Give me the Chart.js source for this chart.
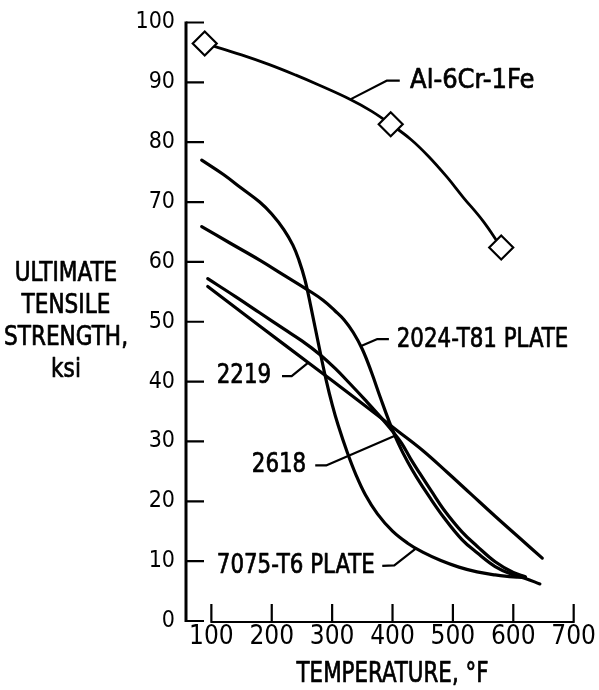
<!DOCTYPE html>
<html>
<head>
<meta charset="utf-8">
<title>Ultimate tensile strength vs temperature</title>
<script src="https://cdn.jsdelivr.net/npm/chart.js@4.4.1/dist/chart.umd.min.js"></script>
<style>
  html, body { margin: 0; padding: 0; background: #fff; }
  #wrap { width: 599px; height: 690px; }
</style>
</head>
<body>
<div id="wrap"><canvas id="chart"></canvas></div>
<script>
// ── Axis ticks ──────────────────────────────────────────────────────
const xTicks = [100, 200, 300, 400, 500, 600, 700];           // °F
const yTicks = [0, 10, 20, 30, 40, 50, 60, 70, 80, 90, 100];  // ksi

// ── Curves (temperature °F, strength ksi) ──────────────────────────
const alTemps    = [89, 150, 195, 240, 277, 331, 365, 397, 430, 459, 490, 517, 550, 580];
const alStrength = [96.5, 94.6, 93.0, 91.2, 89.6, 87.1, 85.2, 83.0, 80.5, 77.7, 74.2, 70.8, 66.8, 62.4];

// measured points (diamonds)
const alTestTemps    = [89, 397, 580];
const alTestStrength = [96.5, 83.0, 62.4];

const t7075Temps    = [84, 120, 150, 180, 200, 220, 235, 245, 255, 265, 280, 290, 300, 310, 325, 340, 355, 375, 400, 425, 450, 480, 510, 540, 570, 600, 620];
const t7075Strength = [77.0, 74.6, 72.3, 70.0, 68.0, 65.4, 62.8, 60.3, 57.0, 52.4, 45.0, 40.3, 36.2, 32.7, 28.2, 24.3, 21.1, 17.9, 15.0, 13.0, 11.5, 10.1, 9.0, 8.2, 7.7, 7.35, 7.3];

const t2024Temps    = [84, 130, 180, 220, 260, 285, 305, 320, 335, 350, 365, 380, 395, 410, 425, 440, 460, 485, 515, 540, 570, 600, 620, 644];
const t2024Strength = [65.9, 63.2, 60.3, 57.8, 55.3, 53.6, 51.8, 50.3, 48.2, 45.4, 41.6, 37.3, 33.2, 29.6, 26.6, 24.0, 20.9, 17.3, 13.6, 11.4, 9.1, 7.7, 7.1, 6.2];

const t2618Temps    = [94, 140, 180, 220, 250, 280, 305, 330, 355, 380, 400, 415, 430, 445, 465, 485, 515, 540, 570, 600, 620];
const t2618Strength = [57.2, 54.2, 51.5, 48.8, 46.8, 44.5, 42.2, 39.6, 36.9, 34.1, 31.7, 29.7, 27.1, 24.7, 21.6, 18.6, 14.9, 12.5, 9.9, 8.1, 7.4];

const t2219Temps    = [94, 180, 264, 340, 408, 450, 490, 530, 570, 610, 648];
const t2219Strength = [55.9, 49.3, 42.9, 37.1, 31.8, 28.5, 24.9, 21.2, 17.5, 13.9, 10.5];

const yTitle = ['ULTIMATE', 'TENSILE', 'STRENGTH,', 'ksi'];
const xTitle = 'TEMPERATURE, °F';

// ── Callout labels with leader lines (in data units) ────────────────
const callouts = [
  { text: 'Al-6Cr-1Fe',     at: [429, 90.3], align: 'left',  squeeze: 1.0,  leader: [[331, 87.2], [391, 90.3], [412, 90.3]] },
  { text: '2024-T81 PLATE', at: [407, 46.9], align: 'left',  squeeze: 0.88, leader: [[347, 45.9], [375, 47.1], [394, 47.1]] },
  { text: '2219',           at: [199, 40.9], align: 'right', squeeze: 0.88, leader: [[217, 40.9], [233, 40.9], [261, 43.2]] },
  { text: '2618',           at: [257, 26.0], align: 'right', squeeze: 0.88, leader: [[272, 26.0], [290, 26.0], [403, 30.9]] },
  { text: '7075-T6 PLATE',  at: [109, 9.2],  align: 'left',  squeeze: 0.88, leader: [[383, 9.2], [403, 9.3], [440, 12.2]] },
];

const INK  = '#000';
const FONT = "'DejaVu Sans Condensed', 'DejaVu Sans', sans-serif";

const pts = (xs, ys) => xs.map((t, i) => ({ x: t, y: ys[i] }));

function curve(xs, ys, width) {
  return {
    data: pts(xs, ys),
    borderColor: INK,
    borderWidth: width,
    borderCapStyle: 'round',
    pointRadius: 0,
    tension: 0.4,
    fill: false,
  };
}

// draw text narrowed horizontally (the report lettering is very condensed)
function condensedText(ctx, text, px, py, align, k) {
  ctx.save();
  ctx.translate(px, py);
  ctx.scale(k, 1);
  ctx.textAlign = align;
  ctx.fillText(text, 0, 0);
  ctx.strokeText(text, 0, 0);
  ctx.restore();
}

// Hand-drawn style axes: y spine with inward ticks, x axis broken from 100 °F
const paperAxes = {
  id: 'paperAxes',
  beforeDatasetsDraw(chart) {
    const { ctx, chartArea, scales: { x, y } } = chart;
    const left = chartArea.left;
    const y0 = y.getPixelForValue(0);
    ctx.save();
    ctx.strokeStyle = INK;

    ctx.lineWidth = 3;
    ctx.beginPath();
    ctx.moveTo(left, y.getPixelForValue(yTicks.at(-1)) - 1);
    ctx.lineTo(left, y0 + 1);
    ctx.stroke();

    ctx.lineWidth = 2.2;
    ctx.beginPath();
    yTicks.forEach(v => {
      const py = y.getPixelForValue(v);
      ctx.moveTo(left, py);
      ctx.lineTo(left + 18, py);
    });
    const xa = x.getPixelForValue(xTicks[0]);
    const xb = x.getPixelForValue(xTicks.at(-1));
    ctx.moveTo(xa - 1, y0 + 1);
    ctx.lineTo(xb + 1, y0 + 1);
    xTicks.forEach(v => {
      const px = x.getPixelForValue(v);
      ctx.moveTo(px, y0 + 1);
      ctx.lineTo(px, y0 - 17);
    });
    ctx.stroke();
    ctx.restore();
  },

  afterDatasetsDraw(chart) {
    const { ctx, chartArea, scales: { x, y } } = chart;
    ctx.save();
    ctx.strokeStyle = INK;
    ctx.fillStyle = INK;
    ctx.lineJoin = 'round';
    ctx.textBaseline = 'middle';

    callouts.forEach(c => {
      ctx.lineWidth = 2.2;
      ctx.beginPath();
      c.leader.forEach(([t, s], i) => {
        const px = x.getPixelForValue(t), py = y.getPixelForValue(s);
        i ? ctx.lineTo(px, py) : ctx.moveTo(px, py);
      });
      ctx.stroke();
    });

    ctx.font = `27px ${FONT}`;
    ctx.lineWidth = 0.7;
    callouts.forEach(c => {
      condensedText(ctx, c.text, x.getPixelForValue(c.at[0]), y.getPixelForValue(c.at[1]), c.align, c.squeeze);
    });

    // horizontal y-axis title
    const cx = chartArea.left - 120;
    const cy = y.getPixelForValue(50);
    yTitle.forEach((line, i) => condensedText(ctx, line, cx, cy + (i - 1.5) * 32, 'center', 0.89));

    // x-axis title
    ctx.font = `28px ${FONT}`;
    condensedText(ctx, xTitle, x.getPixelForValue(400), y.getPixelForValue(0) + 54, 'center', 0.85);
    ctx.restore();
  },
};

new Chart(document.getElementById('chart'), {
  type: 'line',
  data: {
    datasets: [
      {
        data: pts(alTestTemps, alTestStrength),
        showLine: false,
        pointStyle: 'rectRot',
        pointRadius: 12,
        pointBorderWidth: 2.2,
        pointBorderColor: INK,
        pointBackgroundColor: '#fff',
      },
      curve(alTemps, alStrength, 2.8),
      curve(t7075Temps, t7075Strength, 3.2),
      curve(t2024Temps, t2024Strength, 3.2),
      curve(t2618Temps, t2618Strength, 3.2),
      curve(t2219Temps, t2219Strength, 3.2),
    ],
  },
  options: {
    responsive: true,
    maintainAspectRatio: false,
    animation: false,
    layout: { padding: { top: 20, right: 20, left: 0, bottom: 0 } },
    plugins: { legend: { display: false }, tooltip: { enabled: false } },
    scales: {
      x: {
        type: 'linear',
        min: 58,
        max: 700,
        afterFit(s) { s.height = 69; },
        afterBuildTicks(s) { s.ticks = xTicks.map(v => ({ value: v })); },
        grid: { display: false, drawTicks: false },
        border: { display: false },
        ticks: { color: INK, padding: 3, maxRotation: 0, autoSkip: false, font: { family: FONT, size: 26, lineHeight: 1 } },
      },
      y: {
        min: 0,
        max: 100,
        afterFit(s) { s.width = 186; },
        afterBuildTicks(s) { s.ticks = yTicks.map(v => ({ value: v })); },
        grid: { display: false, drawTicks: false },
        border: { display: false },
        ticks: { color: INK, padding: 11, font: { family: FONT, size: 23, lineHeight: 1 } },
      },
    },
  },
  plugins: [paperAxes],
});
</script>
</body>
</html>
